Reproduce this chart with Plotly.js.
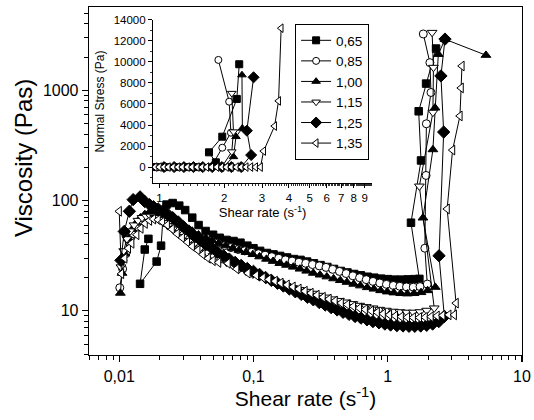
<!DOCTYPE html>
<html>
<head>
<meta charset="utf-8">
<script src="https://cdn.plot.ly/plotly-3.0.1.min.js"></script>
<style>html,body{margin:0;padding:0;background:#fff;}#chart{width:534px;height:420px;}</style>
</head>
<body>
<div id="chart"></div>
<script>
// ---- series names ----
const seriesNames = ['0,65', '0,85', '1,00', '1,15', '1,25', '1,35'];

// ---- main plot: viscosity (Pas) vs shear rate (1/s) ----
const visc065_x = [0.0165, 0.0155, 0.0143, 0.019, 0.0205, 0.0212, 0.0225, 0.025, 0.028, 0.031, 0.035, 0.039, 0.044, 0.05, 0.056, 0.063, 0.071, 0.08, 0.09, 0.1, 0.112, 0.126, 0.141, 0.158, 0.178, 0.2, 0.224, 0.251, 0.282, 0.316, 0.355, 0.398, 0.447, 0.501, 0.562, 0.631, 0.708, 0.794, 0.891, 1.0, 1.12, 1.26, 1.41, 1.58, 1.72, 1.49, 1.77, 1.70, 1.93, 2.29];
const visc065_y = [45, 36, 17.6, 28, 39, 70, 92, 95, 90, 82, 70, 60, 53, 49, 46, 44, 43, 41.5, 39, 37, 35, 33.5, 32.5, 31.5, 30.5, 29.5, 29, 28, 27, 26, 25, 24, 23, 22.3, 21.6, 21, 20.4, 20, 19.6, 19.4, 19.2, 19.2, 19.3, 19.4, 19.5, 63, 231, 645, 1150, 2390];

const visc085_x = [0.0101, 0.0106, 0.0112, 0.0119, 0.0127, 0.0136, 0.0146, 0.0157, 0.017, 0.0185, 0.02, 0.022, 0.024, 0.027, 0.03, 0.034, 0.038, 0.043, 0.048, 0.054, 0.061, 0.068, 0.077, 0.086, 0.097, 0.109, 0.122, 0.137, 0.154, 0.173, 0.194, 0.218, 0.245, 0.275, 0.309, 0.347, 0.389, 0.437, 0.49, 0.55, 0.617, 0.692, 0.777, 0.872, 0.978, 1.1, 1.23, 1.38, 1.55, 1.74, 1.97, 1.89, 1.93, 1.94, 2.1, 2.06, 1.84];
const visc085_y = [16.2, 24, 33, 42, 50, 57, 63, 67, 70, 72, 72, 70, 67, 62, 57, 52, 48, 45, 43, 41, 39, 37.5, 36, 35, 34, 33, 32, 31, 30, 29, 28.3, 27.6, 27, 26.3, 25.6, 24.8, 23.8, 22.8, 21.8, 20.8, 20, 19.2, 18.5, 17.9, 17.4, 17, 16.7, 16.5, 16.4, 16.6, 17.5, 37, 169, 497, 955, 1780, 3240];

const visc100_x = [0.0102, 0.0105, 0.011, 0.0117, 0.0125, 0.0134, 0.0144, 0.0155, 0.0167, 0.018, 0.0195, 0.021, 0.023, 0.025, 0.028, 0.031, 0.035, 0.039, 0.044, 0.049, 0.055, 0.062, 0.07, 0.078, 0.088, 0.099, 0.111, 0.125, 0.14, 0.157, 0.176, 0.198, 0.222, 0.249, 0.279, 0.313, 0.352, 0.395, 0.443, 0.497, 0.558, 0.626, 0.703, 0.789, 0.885, 0.993, 1.11, 1.25, 1.4, 1.57, 1.77, 1.98, 2.26, 1.83, 2.17, 2.25, 2.38, 2.67, 5.39];
const visc100_y = [14.5, 22, 33, 45, 55, 63, 70, 75, 78, 79, 78, 76, 72, 68, 63, 58, 53, 49, 46, 43.5, 41, 39, 37, 35.5, 34, 32.5, 31, 29.5, 28.2, 27, 26, 25, 24, 23, 22, 21.2, 20.4, 19.6, 18.9, 18.2, 17.5, 16.9, 16.3, 15.8, 15.3, 14.9, 14.6, 14.4, 14.3, 14.4, 14.7, 15.3, 16.4, 69.7, 290, 693, 2120, 2900, 2080];

const visc115_x = [0.0103, 0.0108, 0.0114, 0.0121, 0.0129, 0.0138, 0.0148, 0.0159, 0.0171, 0.0184, 0.0198, 0.0213, 0.023, 0.025, 0.027, 0.03, 0.033, 0.036, 0.04, 0.045, 0.05, 0.056, 0.063, 0.07, 0.079, 0.088, 0.099, 0.111, 0.124, 0.139, 0.156, 0.175, 0.196, 0.22, 0.247, 0.277, 0.31, 0.348, 0.39, 0.437, 0.49, 0.55, 0.617, 0.692, 0.776, 0.87, 0.976, 1.1, 1.23, 1.38, 1.55, 1.74, 1.95, 2.22, 1.72, 2.17, 2.19, 2.14];
const visc115_y = [25, 35, 45, 53, 60, 66, 70, 72, 72, 70, 67, 63, 59, 55, 51, 47, 43, 40, 37, 34, 31.5, 29.5, 27.5, 25.8, 24.2, 22.8, 21.5, 20.3, 19.3, 18.4, 17.6, 16.9, 16.2, 15.6, 15, 14.4, 13.8, 13.3, 12.8, 12.4, 12, 11.6, 11.2, 10.9, 10.6, 10.3, 10.1, 9.9, 9.8, 9.7, 9.7, 9.8, 10.1, 10.6, 135, 630, 1610, 3340];

const visc125_x = [0.0103, 0.0109, 0.0119, 0.0127, 0.0143, 0.0155, 0.0168, 0.018, 0.0195, 0.021, 0.023, 0.025, 0.0275, 0.03, 0.033, 0.036, 0.04, 0.044, 0.049, 0.054, 0.06, 0.066, 0.073, 0.081, 0.09, 0.1, 0.111, 0.123, 0.136, 0.151, 0.167, 0.185, 0.205, 0.227, 0.252, 0.279, 0.309, 0.342, 0.379, 0.42, 0.465, 0.515, 0.571, 0.632, 0.7, 0.776, 0.86, 0.952, 1.05, 1.17, 1.3, 1.44, 1.59, 1.76, 1.95, 2.16, 2.4, 2.64, 2.41, 2.61, 2.49, 2.67];
const visc125_y = [28.7, 52.5, 80, 102, 108, 98, 92, 88, 84, 80, 75, 70, 64, 58, 53, 48, 44, 40, 37, 34, 31.5, 29.5, 27.5, 25.8, 24.2, 22.8, 21.4, 20.1, 18.9, 17.8, 16.8, 15.8, 14.9, 14.1, 13.3, 12.6, 11.9, 11.3, 10.7, 10.2, 9.7, 9.3, 8.9, 8.6, 8.3, 8.0, 7.8, 7.6, 7.45, 7.35, 7.3, 7.25, 7.25, 7.3, 7.4, 7.6, 8.0, 8.9, 31.6, 418, 1350, 2910];

const visc135_x = [0.0100, 0.0104, 0.011, 0.0117, 0.0124, 0.0135, 0.0145, 0.0156, 0.0168, 0.018, 0.0195, 0.021, 0.0228, 0.0248, 0.027, 0.0295, 0.0322, 0.035, 0.0385, 0.042, 0.046, 0.05, 0.055, 0.0646, 0.075, 0.091, 0.105, 0.118, 0.13, 0.145, 0.16, 0.178, 0.197, 0.218, 0.242, 0.268, 0.297, 0.33, 0.365, 0.405, 0.45, 0.5, 0.555, 0.615, 0.68, 0.755, 0.835, 0.925, 1.03, 1.14, 1.26, 1.4, 1.55, 1.72, 1.9, 2.1, 2.33, 2.57, 2.85, 3.13, 3.23, 2.77, 3.04, 3.45, 3.52, 3.57];
const visc135_y = [80, 21.7, 30, 37, 41, 49, 56, 62, 66, 68, 67, 64, 60, 55, 50, 46, 42, 38.5, 35.5, 32.5, 30, 28.5, 27.5, 27, 24, 22, 21, 20, 19.3, 18.6, 17.9, 17.2, 16.5, 15.8, 15.1, 14.5, 13.9, 13.3, 12.8, 12.3, 11.8, 11.4, 11, 10.6, 10.3, 10, 9.7, 9.4, 9.2, 9.0, 8.85, 8.75, 8.7, 8.7, 8.75, 8.85, 9.0, 9.1, 9.2, 9.2, 11.75, 84, 287, 585, 1050, 1660];

// ---- inset: normal stress (Pa) vs shear rate (1/s) ----
const ns065_x = [0.963, 1.08, 1.21, 1.35, 1.52, 1.83, 1.70, 1.96, 2.29, 2.35];
const ns065_y = [0, 0, 0, 0, 0, 450, 1400, 2890, 6480, 9780];
const ns085_x = [0.978, 1.1, 1.23, 1.38, 1.55, 1.74, 1.96, 2.15, 2.11, 1.88];
const ns085_y = [0, 0, 0, 0, 0, 0, 1840, 3270, 6220, 10190];
const ns100_x = [0.993, 1.11, 1.25, 1.4, 1.57, 1.77, 1.98, 2.21, 2.27, 2.43, 2.42];
const ns100_y = [0, 0, 0, 0, 0, 0, 0, 980, 2890, 3690, 8760];
const ns115_x = [0.976, 1.1, 1.23, 1.38, 1.55, 1.74, 1.95, 2.17, 2.21, 2.17];
const ns115_y = [0, 0, 0, 0, 0, 0, 0, 1460, 3360, 7020];
const ns125_x = [1.05, 1.17, 1.3, 1.44, 1.59, 1.76, 1.95, 2.16, 2.4, 2.67, 2.55, 2.74];
const ns125_y = [0, 0, 0, 0, 0, 0, 0, 0, 0, 1140, 3460, 8540];
const ns135_x = [0.955, 1.0, 1.05, 1.1, 1.16, 1.22, 1.28, 1.35, 1.42, 1.5, 1.58, 1.66, 1.75, 1.85, 1.95, 2.05, 2.16, 2.28, 2.4, 2.53, 2.66, 2.8, 2.95, 3.05, 3.43, 3.58, 3.68];
const ns135_y = [0, 0, 0, 0, 0, 0, 0, 0, 0, 0, 0, 0, 0, 0, 0, 0, 0, 0, 0, 0, 0, 0, 0, 1520, 3900, 6290, 13210];

// ---- tick labels ----
const mainXTickVals = [0.01, 0.1, 1, 10];
const mainXTickText = ['0,01', '0,1', '1', '10'];
const mainYTickVals = [10, 100, 1000];
const mainYTickText = ['10', '100', '1000'];
const insetXTickVals = [1, 2, 3, 4, 5, 6, 7, 8, 9];
const insetXTickText = ['1', '2', '3', '4', '5', '6', '7', '8', '9'];
const insetYTickVals = [0, 2000, 4000, 6000, 8000, 10000, 12000, 14000];
const insetYTickText = ['0', '2000', '4000', '6000', '8000', '10000', '12000', '14000'];

// ---- build ----
const mainX = [visc065_x, visc085_x, visc100_x, visc115_x, visc125_x, visc135_x];
const mainY = [visc065_y, visc085_y, visc100_y, visc115_y, visc125_y, visc135_y];
const insX = [ns065_x, ns085_x, ns100_x, ns115_x, ns125_x, ns135_x];
const insY = [ns065_y, ns085_y, ns100_y, ns115_y, ns125_y, ns135_y];

const symbols = ['square', 'circle', 'triangle-up', 'triangle-down', 'diamond', 'triangle-left'];
const fills = ['black', 'white', 'black', 'white', 'black', 'white'];
const mainSizes = [7.5, 8, 8.5, 8.5, 9.5, 8.5];
const insSizes = [7, 7, 7.5, 7.5, 8.5, 7.5];

const FONT = 'Arial, "Liberation Sans", sans-serif';

function logMinors(lo, hi) {
  const v = [];
  for (let e = lo; e < hi; e++) for (let m = 2; m <= 9; m++) v.push(m * Math.pow(10, e));
  return v;
}
function linMinors(a, b, step) {
  const v = [];
  for (let k = Math.round(a / step); k * step <= b + 1e-9; k++) v.push(+(k * step).toFixed(6));
  return v;
}

const traces = [];
for (let i = 0; i < 6; i++) {
  traces.push({
    type: 'scatter', mode: 'lines+markers', x: mainX[i], y: mainY[i],
    xaxis: 'x', yaxis: 'y', name: seriesNames[i], showlegend: false,
    line: {color: 'black', width: 1},
    marker: {symbol: symbols[i], size: mainSizes[i], color: fills[i], line: {color: 'black', width: 1}},
    cliponaxis: true
  });
}
for (let i = 0; i < 6; i++) {
  traces.push({
    type: 'scatter', mode: 'lines+markers', x: insX[i], y: insY[i],
    xaxis: 'x2', yaxis: 'y2', name: seriesNames[i], showlegend: true,
    line: {color: 'black', width: 1},
    marker: {symbol: symbols[i], size: insSizes[i], color: fills[i], line: {color: 'black', width: 1}},
    cliponaxis: true
  });
}

const layout = {
  width: 534, height: 420,
  margin: {l: 89, r: 12, t: 7, b: 65, pad: 0},
  paper_bgcolor: 'white', plot_bgcolor: 'white',
  font: {family: FONT, color: 'black'},
  showlegend: true,
  xaxis: {
    type: 'log', range: [-2.225, 1], domain: [0, 1], anchor: 'y',
    showline: true, mirror: true, linecolor: 'black', linewidth: 1.3,
    showgrid: false, zeroline: false,
    ticks: 'outside', ticklen: 6, tickwidth: 1.2, tickcolor: 'black',
    tickmode: 'array', tickvals: mainXTickVals, ticktext: mainXTickText,
    tickfont: {size: 16, family: FONT},
    minor: {tickmode: 'array', tickvals: logMinors(-3, 1), ticks: 'outside', ticklen: 3.5, tickwidth: 1, tickcolor: 'black', showgrid: false},
    title: {text: 'Shear rate (s<sup>-1</sup>)', font: {size: 21, family: FONT}, standoff: 6},
    automargin: false
  },
  yaxis: {
    type: 'log', range: [0.6, 3.755], domain: [0, 1], anchor: 'x',
    showline: true, mirror: true, linecolor: 'black', linewidth: 1.3,
    showgrid: false, zeroline: false,
    ticks: 'outside', ticklen: 6, tickwidth: 1.2, tickcolor: 'black',
    tickmode: 'array', tickvals: mainYTickVals, ticktext: mainYTickText,
    tickfont: {size: 16, family: FONT},
    minor: {tickmode: 'array', tickvals: logMinors(0, 4), ticks: 'outside', ticklen: 3.5, tickwidth: 1, tickcolor: 'black', showgrid: false},
    automargin: false
  },
  xaxis2: {
    type: 'log', range: [-0.0293, 0.989], domain: [0.148, 0.654], anchor: 'y2',
    showline: true, mirror: false, linecolor: 'black', linewidth: 1.1,
    showgrid: false, zeroline: false,
    ticks: 'outside', ticklen: 4, tickwidth: 1, tickcolor: 'black',
    tickmode: 'array', tickvals: insetXTickVals, ticktext: insetXTickText,
    tickfont: {size: 11.5, family: FONT},
    minor: {tickmode: 'array', tickvals: linMinors(1, 9.7, 0.1), ticks: 'outside', ticklen: 2, tickwidth: 0.8, tickcolor: 'black', showgrid: false},
    title: {text: 'Shear rate (s<sup>-1</sup>)', font: {size: 13, family: FONT}, standoff: 2},
    automargin: false
  },
  yaxis2: {
    type: 'linear', range: [-1524, 14000], domain: [0.494, 0.963], anchor: 'x2',
    showline: true, mirror: false, linecolor: 'black', linewidth: 1.1,
    showgrid: false, zeroline: false,
    ticks: 'outside', ticklen: 4, tickwidth: 1, tickcolor: 'black',
    tickmode: 'array', tickvals: insetYTickVals, ticktext: insetYTickText,
    tickfont: {size: 11.5, family: FONT},
    minor: {tickmode: 'array', tickvals: [-1000, 1000, 3000, 5000, 7000, 9000, 11000, 13000], ticks: 'outside', ticklen: 2, tickwidth: 0.8, tickcolor: 'black', showgrid: false},
    title: {text: 'Normal Stress (Pa)', font: {size: 12, family: FONT}, standoff: 6},
    automargin: false
  },
  annotations: [{
    text: 'Viscosity (Pas)', textangle: -90, showarrow: false,
    xref: 'paper', yref: 'paper', x: -0.1524, y: 0.566, xanchor: 'center', yanchor: 'middle',
    font: {size: 24, family: FONT, color: 'black'}
  }],
  legend: {
    x: 0.476, y: 0.951, xanchor: 'left', yanchor: 'top',
    bgcolor: 'white', bordercolor: 'black', borderwidth: 1,
    font: {size: 13.5, family: FONT}, tracegroupgap: 0, itemwidth: 30
  }
};

Plotly.newPlot('chart', traces, layout, {staticPlot: true, displayModeBar: false});
</script>
</body>
</html>
